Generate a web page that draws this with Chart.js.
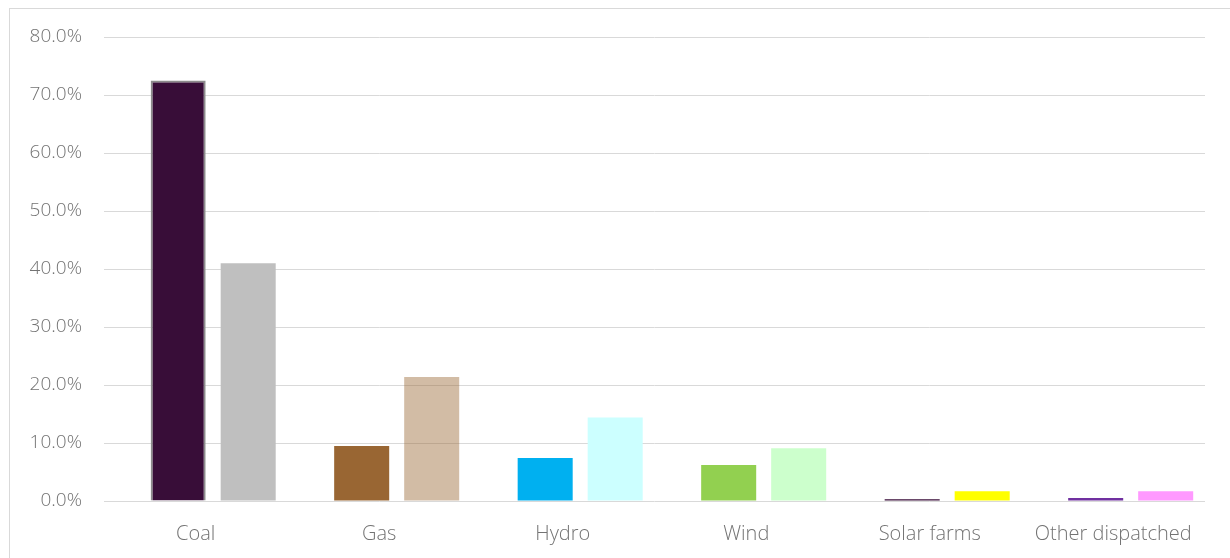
<!DOCTYPE html>
<html>
<head>
<meta charset="utf-8">
<script src="https://cdn.jsdelivr.net/npm/chart.js@4.4.1/dist/chart.umd.min.js"></script>
<style>
  html, body { margin: 0; padding: 0; background: #ffffff; }
  #wrap { position: relative; width: 1230px; height: 558px; overflow: hidden; }
  #frame { position: absolute; left: 9px; top: 8px; width: 1240px; height: 560px;
           border-left: 1px solid #d9d9d9; border-top: 1px solid #d9d9d9; }
  canvas { position: absolute; left: 0; top: 0; }
</style>
</head>
<body>
<div id="wrap">
  <div id="frame"></div>
  <canvas id="chart" width="1230" height="558"></canvas>
</div>
<script>
// Fuel types along the x axis
const categories = ['Coal', 'Gas', 'Hydro', 'Wind', 'Solar farms', 'Other dispatched'];

// Share of total (%) per fuel type, two series
const outputShare   = [72.5, 9.5, 7.4, 6.2, 0.3, 0.5];
const capacityShare = [41.0, 21.4, 14.4, 9.1, 1.7, 1.7];

// Y axis tick values (%)
const yTicks = [0, 10, 20, 30, 40, 50, 60, 70, 80];

// Bar colours per fuel type
const outputColors   = ['#380d38', '#996633', '#00b0f0', '#92d050', '#380d38', '#7030a0'];
const capacityColors = ['#bfbfbf', 'rgba(153,102,51,0.44)', '#ccffff', '#ccffcc', '#ffff00', '#ff99ff'];

// Bar groups sit a little to the right of each category label
const groupShift = 0.095;

const xFont = { family: '"Open Sans", "Noto Sans", sans-serif', size: 20, weight: 300 };
const yFont = { family: '"Open Sans", "Noto Sans", sans-serif', size: 19, weight: 300 };
const labelColor = '#737373';

const toPoints = (arr) => arr.map((v, i) => ({ x: i, y: v }));

new Chart(document.getElementById('chart'), {
  type: 'bar',
  data: {
    labels: categories,
    datasets: [
      {
        label: 'Output',
        data: toPoints(outputShare),
        xAxisID: 'xb',
        backgroundColor: outputColors,
        borderColor: '#8c8c8c',
        borderWidth: [2, 0, 0, 0, 0, 0],
        categoryPercentage: 0.763,
        barPercentage: 0.786
      },
      {
        label: 'Capacity',
        data: toPoints(capacityShare),
        xAxisID: 'xb',
        backgroundColor: capacityColors,
        borderWidth: 0,
        categoryPercentage: 0.763,
        barPercentage: 0.786
      }
    ]
  },
  options: {
    responsive: false,
    animation: false,
    layout: { padding: { left: 0, right: 25, top: 37, bottom: 0 } },
    plugins: { legend: { display: false }, tooltip: { enabled: false } },
    scales: {
      x: {
        type: 'category',
        offset: true,
        grid: { display: false, drawTicks: false },
        border: { display: false },
        ticks: { color: labelColor, font: xFont, padding: 21, maxRotation: 0, autoSkip: false },
        afterFit: (scale) => { scale.height = 57; }
      },
      xb: {
        type: 'linear',
        display: false,
        offset: false,
        min: -0.5 - groupShift,
        max: categories.length - 0.5 - groupShift,
        afterBuildTicks: (scale) => { scale.ticks = categories.map((_, i) => ({ value: i })); }
      },
      y: {
        min: yTicks[0],
        max: yTicks[yTicks.length - 1],
        afterBuildTicks: (scale) => { scale.ticks = yTicks.map(v => ({ value: v })); },
        grid: { color: '#d9d9d9', lineWidth: 1, drawTicks: false },
        border: { display: false },
        ticks: {
          color: labelColor,
          font: yFont,
          padding: 22,
          callback: (v) => v.toFixed(1) + '%'
        },
        afterFit: (scale) => { scale.width = 104; }
      }
    }
  }
});
</script>
</body>
</html>
